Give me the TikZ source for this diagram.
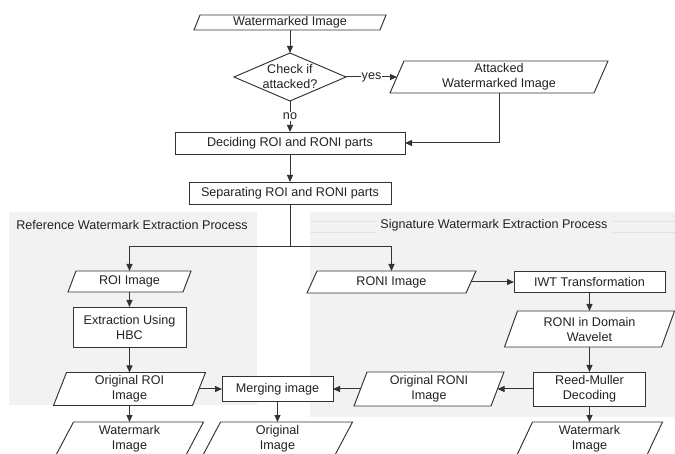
\documentclass[tikz,border=0pt]{standalone}
\usepackage{fontspec}
\setmainfont{Liberation Sans}
\usetikzlibrary{arrows.meta,calc}
\definecolor{ln}{HTML}{333333}
\definecolor{tx}{HTML}{222222}
\definecolor{panel}{HTML}{F2F2F2}
\definecolor{hdr}{HTML}{E4E4DC}
\tikzset{
  box/.style={draw=ln, fill=white, line width=0.95pt},
  shape0/.style={inner sep=0pt, outer sep=0pt},
  lbl/.style={text=tx, align=center, inner sep=0pt, font=\fontsize{12.6}{15}\selectfont},
  rbox/.style={box, shape0, lbl},
  conn/.style={draw=ln, line width=1pt, -{Triangle[length=7pt,width=6pt]}},
  plain/.style={draw=ln, line width=1pt},
}
% #1 name, #2 x, #3 y, #4 mid width, #5 height, #6 slant, #7 text
\newcommand\pgram[7]{%
  \node[shape0, minimum width=#4pt, minimum height=#5pt] (#1) at (#2,#3) {};
  \draw[box] ($(#1.south west)+(-#6/2,0)$) -- ($(#1.north west)+(#6/2,0)$) --
    ($(#1.north east)+(#6/2,0)$) -- ($(#1.south east)+(-#6/2,0)$) -- cycle;
  \node[lbl] at (#1) {#7};
}
\begin{document}
\begin{tikzpicture}[x=1pt, y=-1pt]
\useasboundingbox (0,0) rectangle (675,454);
% panels
\fill[panel] (9,212) rectangle (257,405);
\fill[panel] (310,212) rectangle (675,417);
\draw[hdr, line width=0.8pt] (310,221) -- (377,221) (613,221) -- (675,221);
\draw[hdr, line width=0.8pt] (310,232) -- (377,232) (613,232) -- (675,232);
\node[lbl] (t1) at (132,225) {Reference Watermark Extraction Process};
\node[lbl] (t2) at (494,225) {Signature Watermark Extraction Process};

% top part
\pgram{wm}{290}{22.5}{186}{15}{6}{Watermarked Image}
\node[shape0, minimum width=112pt, minimum height=48pt] (chk) at (290,77) {};
\draw[box] (chk.north) -- (chk.east) -- (chk.south) -- (chk.west) -- cycle;
\node[lbl] at (290,76) {Check if\\attacked?};
\pgram{atk}{499}{77}{204}{32}{14}{Attacked\\Watermarked Image}
\node[rbox, minimum width=230pt, minimum height=22pt] (dec) at (290,143) {Deciding ROI and RONI parts};
\node[rbox, minimum width=202pt, minimum height=22pt] (sep) at (290,193) {Separating ROI and RONI parts};

% left branch
\pgram{roi}{129.5}{281.5}{115}{21}{8}{ROI Image}
\node[rbox, minimum width=113pt, minimum height=40pt] (ext) at (129.5,327) {Extraction Using\\HBC};
\pgram{oroi}{129.5}{389}{139}{33}{13}{Original ROI\\Image}
\pgram{wma}{129.5}{439}{130}{34}{18}{Watermark\\Image}
\node[rbox, minimum width=111pt, minimum height=25pt] (mrg) at (277.5,389) {Merging image};
\pgram{orig}{277.5}{439}{132}{34}{18}{Original\\Image}

% right branch
\pgram{roni}{391.5}{282}{159}{22}{10}{RONI Image}
\node[rbox, minimum width=151pt, minimum height=21pt] (iwt) at (589.5,282) {IWT Transformation};
\pgram{rdw}{589.5}{329}{157}{36}{13}{RONI in Domain\\Wavelet}
\node[rbox, minimum width=112pt, minimum height=34pt] (rmd) at (589.5,389) {Reed-Muller\\Decoding};
\pgram{oroni}{429}{389}{137}{34}{13}{Original RONI\\Image}
\pgram{wmb}{589.5}{439}{130}{34}{16}{Watermark\\Image}

% connectors
\draw[conn] (wm.south) -- (chk.north);
\draw[conn] (chk.east) -- node[lbl, fill=white, inner xsep=1pt] {yes} (atk.west);
\draw[conn] (chk.south) -- node[lbl, fill=white, inner ysep=1pt, pos=0.5] {no} (dec.north);
\draw[conn] (atk.south) |- (dec.east);
\draw[conn] (dec.south) -- (sep.north);
\coordinate (split) at ($(sep.south)+(0,43)$);
\draw[plain] (sep.south) -- (split);
\draw[conn] (split) -| (roi.north);
\draw[conn] (split) -| (roni.north);
\draw[conn] (roi.south) -- (ext.north);
\draw[conn] (ext.south) -- (oroi.north);
\draw[conn] (oroi.south) -- (wma.north);
\draw[conn] (oroi.east) -- (mrg.west);
\draw[conn] (mrg.south) -- (orig.north);
\draw[conn] (roni.east) -- (iwt.west);
\draw[conn] (iwt.south) -- (rdw.north);
\draw[conn] (rdw.south) -- (rmd.north);
\draw[conn] (rmd.west) -- (oroni.east);
\draw[conn] (oroni.west) -- (mrg.east);
\draw[conn] (rmd.south) -- (wmb.north);
\end{tikzpicture}
\end{document}
